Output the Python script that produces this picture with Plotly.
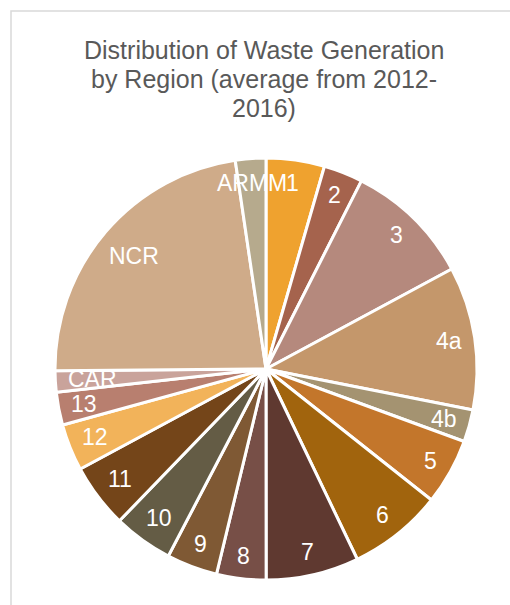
import math
import plotly.graph_objects as go

# ---- data (share of total in %) ----
regions = ["1", "2", "3", "4a", "4b", "5", "6", "7", "8", "9", "10",
           "11", "12", "13", "CAR", "NCR", "ARMM"]
share = [4.47, 3.00, 9.67, 10.97, 2.47, 5.08, 7.22, 7.11, 3.78, 3.89, 4.56,
         4.92, 3.58, 2.53, 1.61, 22.81, 2.33]
colors = ["#EFA22F", "#A5634D", "#B5897D", "#C4976B", "#A49371", "#C3762B",
          "#A1640D", "#5F3930", "#774F47", "#7F5934", "#645C45", "#744519",
          "#F2B35A", "#B87F6F", "#C9A39B", "#CFAB89", "#B6AA8D"]
title_lines = ["Distribution of Waste Generation",
               "by Region (average from 2012-",
               "2016)"]

# ---- layout geometry ----
W, H = 510, 605
ML, MR, MT, MB = 55, 33, 157, 24
pw, ph = W - ML - MR, H - MT - MB
R = min(pw, ph) / 2.0
LABEL_FONT = 23
TITLE_FONT = 25
FONT = "Liberation Sans, Arial, sans-serif"

fig = go.Figure(go.Pie(
    labels=regions,
    values=share,
    sort=False,
    direction="clockwise",
    rotation=0,
    marker=dict(colors=colors, line=dict(color="white", width=3)),
    textinfo="none",
    hoverinfo="label+percent",
    showlegend=False,
))


def text_width(s, size):
    w = 0
    for ch in s:
        w += 0.74 if ch.isupper() else 0.56
    return w * size


def px_to_paper(xp, yp):
    return (xp - ML) / pw, 1 - (yp - MT) / ph


# data labels placed "inside end", positions derived from the data
annotations = []
total = sum(share)
cum = 0.0
for name, v in zip(regions, share):
    mid = (cum + v / 2.0) / total * 2 * math.pi
    cum += v
    tw = text_width(name, LABEL_FONT)
    th = LABEL_FONT * 1.0
    ext = abs(math.sin(mid)) * tw / 2 + abs(math.cos(mid)) * th / 2
    rc = R - 11 - ext
    annotations.append(dict(
        x=0.5 + rc * math.sin(mid) / pw,
        y=0.5 + rc * math.cos(mid) / ph,
        xref="paper", yref="paper",
        text=name, showarrow=False,
        xanchor="center", yanchor="middle",
        font=dict(color="white", size=LABEL_FONT, family=FONT),
    ))

# title, one annotation per line (tighter line spacing than plotly default)
title_baselines = [59, 88, 117]
for line, base in zip(title_lines, title_baselines):
    tx, ty = px_to_paper(263.5, base - 0.35 * TITLE_FONT)
    annotations.append(dict(
        x=tx, y=ty, xref="paper", yref="paper",
        text=line, showarrow=False,
        xanchor="center", yanchor="middle",
        font=dict(color="#595959", size=TITLE_FONT, family=FONT),
    ))

fx0, fy1 = px_to_paper(11, 11)
fx1, fy0 = px_to_paper(W + 6, H + 6)

fig.update_layout(
    width=W, height=H,
    margin=dict(l=ML, r=MR, t=MT, b=MB),
    paper_bgcolor="white",
    plot_bgcolor="white",
    annotations=annotations,
    shapes=[dict(
        type="rect", xref="paper", yref="paper",
        x0=fx0, x1=fx1, y0=fy0, y1=fy1,
        line=dict(color="#D9D9D9", width=1.5),
        fillcolor="rgba(0,0,0,0)", layer="below",
    )],
)

fig.write_html(
    "out.html",
    config={"displayModeBar": False},
    post_script="document.body.style.margin='0px';"
                "document.body.style.overflow='hidden';",
)
